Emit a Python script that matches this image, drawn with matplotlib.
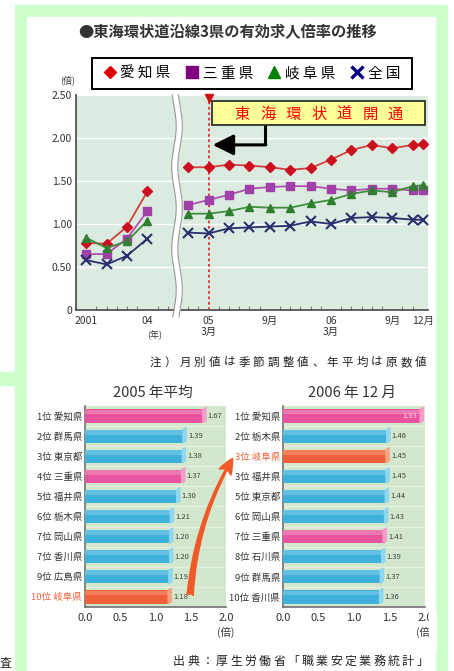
import numpy as np
import matplotlib
matplotlib.use("Agg")
import matplotlib.pyplot as plt
from matplotlib.patches import Rectangle, FancyArrowPatch, Polygon
from matplotlib.lines import Line2D

plt.rcParams['font.family'] = ['Noto Sans CJK JP', 'DejaVu Sans']

W, H = 454, 671

# yearly averages 2001-2004
years = [2001, 2002, 2003, 2004]
aichi_year = [0.78, 0.77, 0.97, 1.38]
mie_year = [0.65, 0.65, 0.83, 1.15]
gifu_year = [0.84, 0.72, 0.80, 1.04]
japan_year = [0.58, 0.53, 0.63, 0.83]

# monthly values (seasonally adjusted), months counted from January 2005
months = [0, 2, 4, 6, 8, 10, 12, 14, 16, 18, 20, 22, 23]
aichi_month = [1.66, 1.66, 1.69, 1.68, 1.66, 1.63, 1.65, 1.75, 1.86, 1.92, 1.88, 1.92, 1.93]
mie_month = [1.22, 1.28, 1.34, 1.41, 1.43, 1.44, 1.44, 1.41, 1.39, 1.41, 1.41, 1.39, 1.39]
gifu_month = [1.12, 1.12, 1.15, 1.20, 1.19, 1.19, 1.24, 1.28, 1.35, 1.39, 1.37, 1.44, 1.45]
japan_month = [0.90, 0.89, 0.95, 0.96, 0.97, 0.98, 1.03, 1.00, 1.07, 1.08, 1.07, 1.05, 1.05]

series_names = ['愛知県', '三重県', '岐阜県', '全国']
opening_month = 2  # March 2005

# top-10 prefectures
ranks_2005 = ['1位', '2位', '3位', '4位', '5位', '6位', '7位', '7位', '9位', '10位']
prefs_2005 = ['愛知県', '群馬県', '東京都', '三重県', '福井県', '栃木県', '岡山県', '香川県', '広島県', '岐阜県']
values_2005 = [1.67, 1.39, 1.38, 1.37, 1.30, 1.21, 1.20, 1.20, 1.19, 1.18]

ranks_2006 = ['1位', '2位', '3位', '3位', '5位', '6位', '7位', '8位', '9位', '10位']
prefs_2006 = ['愛知県', '栃木県', '岐阜県', '福井県', '東京都', '岡山県', '三重県', '石川県', '群馬県', '香川県']
values_2006 = [1.93, 1.46, 1.45, 1.45, 1.44, 1.43, 1.41, 1.39, 1.37, 1.36]


def year_x(y):
    return 1 + 2 * (y - 2001)


def month_x(m):
    return 11 + m


def fx(px):
    return px / W


def fy(py):
    return 1 - py / H


fig = plt.figure(figsize=(W / 100, H / 100), dpi=100)
fig.patch.set_facecolor('white')

GREEN = '#ccffcc'
fig.patches.append(Rectangle((fx(15), 0), fx(447) - fx(15), fy(5), transform=fig.transFigure,
                             color=GREEN, zorder=-2))
fig.patches.append(Rectangle((fx(27), 0), fx(435) - fx(27), fy(17), transform=fig.transFigure,
                             color='white', zorder=-1))
fig.patches.append(Rectangle((0, fy(385)), fx(16), 13 / H, transform=fig.transFigure,
                             color=GREEN, zorder=-1))
fig.text(fx(5), fy(663), '査', ha='center', va='center', fontsize=8.5, color='#222')

# ---------------- line chart ----------------
fig.text(fx(228), fy(32), '●東海環状道沿線3県の有効求人倍率の推移', ha='center', va='center',
         fontsize=11, fontweight='bold', color='#333')

ax = fig.add_axes([fx(76), fy(310), fx(428) - fx(76), (310 - 95) / H])
ax.set_facecolor('#dcebdf')
ax.set_xlim(0, 34.5)
ax.set_ylim(0, 2.5)
ax.set_yticks([0, 0.5, 1.0, 1.5, 2.0, 2.5])
ax.set_yticklabels(['0', '0.50', '1.00', '1.50', '2.00', '2.50'])
ax.grid(axis='y', color='white', lw=1.0)
ax.set_axisbelow(True)
for s in ['top', 'right']:
    ax.spines[s].set_visible(False)
for s in ['left', 'bottom']:
    ax.spines[s].set_color('#555')
    ax.spines[s].set_linewidth(1.3)
ax.tick_params(axis='y', length=0, pad=3, labelsize=7.5, labelcolor='#333')

xt = [year_x(2001), year_x(2004), month_x(2), month_x(8), month_x(14), month_x(20), month_x(23)]
xl = ['2001', '04', '05\n3月', '9月', '06\n3月', '9月', '12月']
ax.set_xticks(xt)
ax.set_xticklabels(xl, linespacing=1.15)
ax.tick_params(axis='x', which='major', length=0, pad=4, labelsize=7.5, labelcolor='#333')
ax.set_xticks(np.arange(0, 35), minor=True)
ax.tick_params(axis='x', which='minor', direction='in', length=3, color='#777', width=0.8)
fig.text(fx(155), fy(335), '(年)', ha='center', va='center', fontsize=6.5, color='#333')
fig.text(fx(68), fy(80), '(倍)', ha='center', va='center', fontsize=6.5, color='#333')

styles = [
    dict(color='#d04040', mfc='#cc1020', mec='#cc1020', marker='D', ms=5.3),
    dict(color='#b050b0', mfc='#a040a8', mec='#a040a8', marker='s', ms=5.5),
    dict(color='#3f8f3f', mfc='#2f7f2f', mec='#2f7f2f', marker='^', ms=5.5),
    dict(color='#2a2f6e', mfc='#2a2f6e', mec='#2a2f6e', marker='x', ms=7, mew=1.5),
]
year_series = [aichi_year, mie_year, gifu_year, japan_year]
month_series = [aichi_month, mie_month, gifu_month, japan_month]
yx = [year_x(y) for y in years]
mx = [month_x(m) for m in months]
for yv, mv, st in zip(year_series, month_series, styles):
    ax.plot(yx, yv, lw=1.3, zorder=4, **st)
    ax.plot(mx, mv, lw=1.3, zorder=4, **st)

# axis break between yearly and monthly sections
yy = np.linspace(-0.08, 2.5, 300)
wave = 9.9 + 0.22 * np.sin(yy * 2 * np.pi / 0.95)
ax.fill_betweenx(yy, wave - 0.3, wave + 0.3, color='white', zorder=3, clip_on=False, lw=0)
ax.plot(wave - 0.3, yy, color='#999', lw=0.8, zorder=3, clip_on=False)
ax.plot(wave + 0.3, yy, color='#999', lw=0.8, zorder=3, clip_on=False)

# opening of the expressway
ox = month_x(opening_month)
ax.axvline(ox, color='#e03030', ls=(0, (1.5, 1.5)), lw=1.3, zorder=2)
ax.plot([ox], [2.47], marker='v', color='#d01010', ms=6, clip_on=False, zorder=5)
ax.add_patch(Rectangle((13.3, 2.15), 20.9, 0.285, fc='#ffff99', ec='#222', lw=1.2, zorder=5))
for i, ch in enumerate('東海環状道開通'):
    ax.text(16.3 + i * 2.5, 2.226, ch, ha='center', va='baseline', fontsize=11, color='#ff0000', zorder=6)
ax.plot([18.5, 18.5], [2.15, 1.92], color='black', lw=2.2, zorder=5, solid_capstyle='butt')
ax.annotate('', xy=(13.4, 1.92), xytext=(18.6, 1.92),
            arrowprops=dict(arrowstyle='-|>,head_length=0.9,head_width=0.45', color='black', lw=2.2,
                            mutation_scale=14, shrinkA=0, shrinkB=0), zorder=5)

# legend
handles = [
    Line2D([], [], ls='none', marker='D', ms=6.5, color='#dd0000'),
    Line2D([], [], ls='none', marker='s', ms=8.3, color='#800080'),
    Line2D([], [], ls='none', marker='^', ms=9.3, color='#008000'),
    Line2D([], [], ls='none', marker='x', ms=8, mew=2.4, color='#000080'),
]
fig.legend(handles, [' '.join(n) for n in series_names], loc='center',
           bbox_to_anchor=(fx(252), fy(73.5)), ncol=4, frameon=False, fontsize=10.5,
           handlelength=0.8, handletextpad=0.35, columnspacing=1.05, borderpad=0.2)
fig.patches.append(Rectangle((fx(92), fy(89)), fx(412) - fx(92), 31 / H, transform=fig.transFigure,
                             fc='none', ec='black', lw=1.4, zorder=3))

# notes
note = '注）月別値は季節調整値、年平均は原数値'
for i, ch in enumerate(note):
    fig.text(fx(155.5 + i * 14.75), fy(366), ch, ha='center', va='baseline', fontsize=8.3, color='#222')
source = '出典：厚生労働省「職業安定業務統計」'
for i, ch in enumerate(source):
    fig.text(fx(179 + i * 14.3), fy(664.5), ch, ha='center', va='baseline', fontsize=8.6, color='#222')

# ---------------- ranking bars ----------------
PINK, BLUE, ORANGE = '#e8559e', '#3fb0d9', '#f0603a'
LIGHT = {PINK: '#ee78b2', BLUE: '#62c0e2', ORANGE: '#f47e58'}
CAP = {PINK: '#f59ccb', BLUE: '#8fd6f0', ORANGE: '#f8a385'}


def pref_color(p):
    if p in ('愛知県', '三重県'):
        return PINK
    if p == '岐阜県':
        return ORANGE
    return BLUE


def rank_panel(left_px, right_px, ranks, prefs, vals, title, title_x):
    a = fig.add_axes([fx(left_px), fy(607), fx(right_px) - fx(left_px), (607 - 406) / H])
    a.set_facecolor('#d3e7cd')
    pos = np.arange(len(vals))
    cols = [pref_color(p) for p in prefs]
    a.barh(pos, vals, height=0.66, color=cols, zorder=3)
    a.barh(pos - 0.2, vals, height=0.24, color=[LIGHT[c] for c in cols], zorder=3)
    for k, (v, c) in enumerate(zip(vals, cols)):
        a.add_patch(Polygon([(v, k + 0.33), (v, k - 0.33), (v + 0.045, k - 0.43), (v + 0.045, k + 0.23)],
                            closed=True, color=CAP[c], zorder=3))
    for k in range(len(vals) - 1):
        a.axhline(k + 0.5, color='#e4efe0', lw=1.0, zorder=1)
    a.set_xlim(0, 2.0)
    a.set_ylim(len(vals) - 0.5, -0.5)
    a.set_yticks(pos)
    a.set_yticklabels([f'{r} {p}' for r, p in zip(ranks, prefs)])
    for lab, p in zip(a.get_yticklabels(), prefs):
        lab.set_color(ORANGE if p == '岐阜県' else '#333')
    a.tick_params(axis='y', length=0, pad=2, labelsize=6.8)
    a.set_xticks([0, 0.5, 1.0, 1.5, 2.0])
    a.set_xticklabels(['0.0', '0.5', '1.0', '1.5', '2.0'])
    a.tick_params(axis='x', length=0, pad=4, labelsize=8, labelcolor='#333')
    for s in ['top', 'right']:
        a.spines[s].set_visible(False)
    for s in ['left', 'bottom']:
        a.spines[s].set_color('#666')
        a.spines[s].set_linewidth(1.1)
    for k, v in enumerate(vals):
        if v > 1.8:
            a.text(v - 0.04, k, f'{v:.2f}', ha='right', va='center', fontsize=5.5,
                   color='#ffd6ea', zorder=4)
        else:
            a.text(v + 0.07, k, f'{v:.2f}', ha='left', va='center', fontsize=5.5,
                   color='#444', zorder=4)
    fig.text(fx(title_x), fy(393), title, ha='center', va='center', fontsize=10.5, color='#333')
    fig.text(fx(right_px), fy(632), '(倍)', ha='center', va='center', fontsize=7.5, color='#333')
    return a


rank_panel(85, 226, ranks_2005, prefs_2005, values_2005, '2005 年平均', 153)
rank_panel(283, 425, ranks_2006, prefs_2006, values_2006, '2006 年 12 月', 352)

# arrow linking Gifu's two rankings
fig.patches.append(FancyArrowPatch((fx(190), fy(598)), (fx(234), fy(456)), transform=fig.transFigure,
                                   connectionstyle='arc3,rad=-0.12',
                                   arrowstyle='fancy,head_length=1.4,head_width=1.2,tail_width=0.55',
                                   mutation_scale=8, color='#f05a28', zorder=5))

# right edge of the panel trims the last tick label
fig.patches.append(Rectangle((fx(428.5), fy(650)), fx(436) - fx(428.5), 40 / H,
                             transform=fig.transFigure, color='white', zorder=6))

fig.savefig('out.png', dpi=100)
